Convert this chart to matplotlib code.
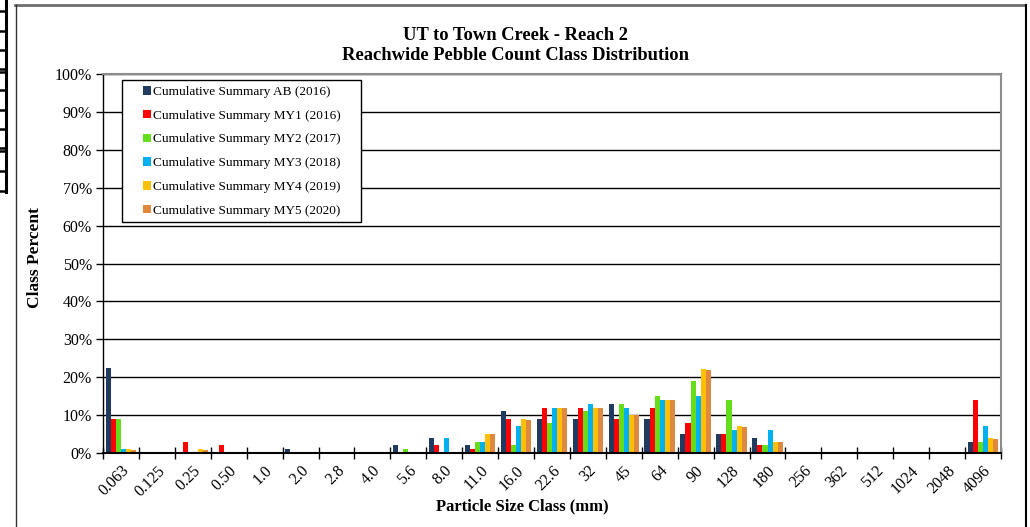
import numpy as np
import matplotlib
matplotlib.use("Agg")
import matplotlib.pyplot as plt
from matplotlib.lines import Line2D
from matplotlib.patches import Rectangle
from matplotlib.ticker import FixedLocator, PercentFormatter


SIZE_CLASSES = ["0.063", "0.125", "0.25", "0.50", "1.0", "2.0", "2.8", "4.0",
                "5.6", "8.0", "11.0", "16.0", "22.6", "32", "45", "64", "90",
                "128", "180", "256", "362", "512", "1024", "2048", "4096"]

SERIES_NAMES = ["Cumulative Summary AB (2016)",
                "Cumulative Summary MY1 (2016)",
                "Cumulative Summary MY2 (2017)",
                "Cumulative Summary MY3 (2018)",
                "Cumulative Summary MY4 (2019)",
                "Cumulative Summary MY5 (2020)"]

# class percent per size class
AB_2016 = [22.3, 0, 0, 0, 0, 1, 0, 0, 2, 4, 2, 11, 9, 9, 13, 9, 5, 5, 4,
           0, 0, 0, 0, 0, 3]
MY1_2016 = [9, 0, 3, 2, 0, 0, 0, 0, 0, 2, 1, 9, 12, 12, 9, 12, 8, 5, 2,
            0, 0, 0, 0, 0, 14]
MY2_2017 = [9, 0, 0, 0, 0, 0, 0, 0, 1, 0, 3, 2, 8, 11, 13, 15, 19, 14, 2,
            0, 0, 0, 0, 0, 3]
MY3_2018 = [1, 0, 0, 0, 0, 0, 0, 0, 0, 4, 3, 7, 12, 13, 12, 14, 15, 6, 6,
            0, 0, 0, 0, 0, 7]
MY4_2019 = [1, 0, 1, 0, 0, 0, 0, 0, 0, 0, 5, 9, 12, 12, 10, 14, 22.1, 7, 3,
            0, 0, 0, 0, 0, 4]
MY5_2020 = [0.9, 0, 0.9, 0, 0, 0, 0, 0, 0, 0, 4.9, 8.8, 11.8, 11.8, 9.9,
            13.9, 21.9, 6.8, 2.8, 0, 0, 0, 0, 0, 3.8]

COLORS = ["#203A60", "#FF0000", "#66DD1A", "#00B0F0", "#FFC000", "#DE8840"]

W, H = 1030, 527
SERIF = "Liberation Serif"


def main():
    plt.rcParams["font.family"] = SERIF
    fig = plt.figure(figsize=(W / 100, H / 100), dpi=100)
    fig.patch.set_facecolor("white")

    # plot area in pixels: x 103..1001, y 74..453
    ax = fig.add_axes([103 / W, 1 - 453 / H, (1001 - 103) / W, (453 - 74) / H])

    series = [AB_2016, MY1_2016, MY2_2017, MY3_2018, MY4_2019, MY5_2020]
    x = np.arange(len(SIZE_CLASSES))
    bw = 0.142
    for j, (vals, name, col) in enumerate(zip(series, SERIES_NAMES, COLORS)):
        ax.bar(x + (j - 2.5) * bw, vals, width=bw, color=col, label=name,
               linewidth=0, zorder=3)

    ax.set_xlim(-0.5, len(SIZE_CLASSES) - 0.5)
    ax.set_ylim(0, 100)

    # y axis
    ax.yaxis.set_major_locator(FixedLocator(np.arange(0, 101, 10)))
    ax.yaxis.set_major_formatter(PercentFormatter(decimals=0))
    ax.tick_params(axis="y", direction="out", length=5, width=1,
                   labelsize=11.5, pad=3)
    ax.grid(axis="y", color="black", linewidth=1, zorder=1)

    # x axis: ticks at category bounds, labels at centres
    ax.xaxis.set_major_locator(FixedLocator(np.arange(len(SIZE_CLASSES) + 1) - 0.5))
    ax.xaxis.set_major_formatter(plt.NullFormatter())
    ax.xaxis.set_minor_locator(FixedLocator(x))
    ax.set_xticklabels(SIZE_CLASSES, minor=True, rotation=45, ha="right",
                       va="top", rotation_mode="anchor", fontsize=11.5)
    ax.tick_params(axis="x", which="major", direction="inout", length=9,
                   width=1)
    ax.tick_params(axis="x", which="minor", length=0, pad=7)

    for s in ["top", "right"]:
        ax.spines[s].set_color("#8c8c8c")
        ax.spines[s].set_linewidth(1.5)
    ax.spines["left"].set_color("black")
    ax.spines["left"].set_linewidth(1)
    ax.spines["bottom"].set_color("black")
    ax.spines["bottom"].set_linewidth(1.5)
    ax.spines["bottom"].set_zorder(4)

    # legend: frame drawn by hand (122..361 x 80..222 px), entries inside
    frame = Rectangle((122 / W, 1 - 222 / H), (361 - 122) / W, (222 - 80) / H,
                      transform=fig.transFigure, facecolor="white",
                      edgecolor="black", linewidth=1, zorder=4.5,
                      clip_on=False)
    ax.add_patch(frame)
    leg = ax.legend(loc="upper left",
                    bbox_to_anchor=(143 / W, 1 - 86 / H),
                    bbox_transform=fig.transFigure,
                    fontsize=9.5, frameon=False,
                    handlelength=0.6, handleheight=0.6, handletextpad=0.15,
                    labelspacing=0.89, borderpad=0, borderaxespad=0)
    leg.set_zorder(5)

    # titles and axis labels
    fig.text(515 / W, 1 - 36 / H, "UT to Town Creek - Reach 2",
             ha="center", va="center", fontsize=13.3, fontweight="bold")
    fig.text(515 / W, 1 - 55 / H, "Reachwide Pebble Count Class Distribution",
             ha="center", va="center", fontsize=13.3, fontweight="bold")
    fig.text(35 / W, 1 - 258 / H, "Class Percent", rotation=90,
             ha="center", va="center", fontsize=12.5, fontweight="bold")
    fig.text(522 / W, 1 - 506 / H, "Particle Size Class (mm)",
             ha="center", va="center", fontsize=12, fontweight="bold")

    # chart area border
    def px_line(xs, ys, color, lw):
        fig.add_artist(Line2D([v / W for v in xs], [1 - v / H for v in ys],
                              color=color, linewidth=lw,
                              transform=fig.transFigure))

    px_line([15, 1025], [4.5, 4.5], "#6e6e6e", 2)
    px_line([15.5, 15.5], [4.5, 527], "#333333", 1)
    px_line([1025.5, 1025.5], [4.5, 527], "black", 1.5)

    # leftover table rules at the left edge of the screenshot
    px_line([6, 6], [0, 192], "black", 2.2)
    for yy in [11, 31, 50, 69, 72, 90, 109.5, 129, 147.5, 151, 171, 191]:
        px_line([0, 6], [yy, yy], "black", 1.8)

    fig.savefig("out.png", dpi=100)


if __name__ == "__main__":
    main()
